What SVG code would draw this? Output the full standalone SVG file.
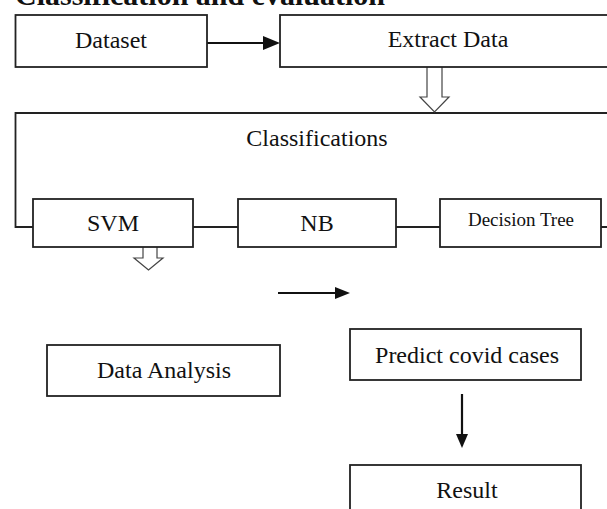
<svg xmlns="http://www.w3.org/2000/svg" width="607" height="509" viewBox="0 0 607 509">
<style>
.box{fill:#fff;stroke:#222;stroke-width:1.8}
.t{font-family:"Liberation Serif","Times New Roman",serif;font-size:24px;fill:#111;text-anchor:middle}
.ln{fill:none;stroke:#222;stroke-width:1.8}
.hollow{fill:#fff;stroke:#444;stroke-width:1.2}
.arr{fill:none;stroke:#111;stroke-width:2.2}
.head{fill:#111}
</style>
<rect width="607" height="509" fill="#fff"/>
<text x="15" y="5" style="font-family:'Liberation Serif','Times New Roman',serif;font-size:30px;font-weight:bold;fill:#111">Classification and evaluation</text>

<g id="connectors">
  <path class="ln" d="M33,227 H15.5 V113 H607"/>
  <path class="ln" d="M193,227 H238 M396,227 H440 M601,227 H607"/>
  <line class="arr" x1="207" y1="43" x2="266" y2="43"/>
  <polygon class="head" points="263,36 280,43 263,50"/>
  <path class="hollow" d="M427,67 V97 H420 L434.5,112 L449,97 H442 V67"/>
  <path class="hollow" d="M143,247 V258 H134 L148.5,270 L163,258 H157 V247"/>
  <line class="arr" x1="278" y1="293" x2="337" y2="293"/>
  <polygon class="head" points="335,287 350,293 335,299"/>
  <line class="arr" x1="462" y1="394" x2="462" y2="436"/>
  <polygon class="head" points="456,434 462,448 468,434"/>
</g>

<g id="dataset"><rect class="box" x="15.5" y="15" width="191.5" height="52"/><text class="t" x="111" y="48">Dataset</text></g>
<g id="extract"><rect class="box" x="280" y="15" width="340" height="52"/><text class="t" x="448" y="47">Extract Data</text></g>
<g id="classifications"><text class="t" x="317" y="146">Classifications</text></g>
<g id="svm"><rect class="box" x="33" y="199" width="160" height="48"/><text class="t" x="113" y="231">SVM</text></g>
<g id="nb"><rect class="box" x="238" y="199" width="158" height="48"/><text class="t" x="317" y="231">NB</text></g>
<g id="dtree"><rect class="box" x="440" y="199" width="161" height="48"/><text class="t" x="521" y="226" style="font-size:19px">Decision Tree</text></g>
<g id="analysis"><rect class="box" x="47" y="345" width="233" height="51"/><text class="t" x="164" y="378">Data Analysis</text></g>
<g id="predict"><rect class="box" x="350" y="329" width="231" height="51"/><text class="t" x="467" y="363">Predict covid cases</text></g>
<g id="result"><rect class="box" x="350" y="465" width="231" height="60"/><text class="t" x="467" y="498">Result</text></g>
</svg>
